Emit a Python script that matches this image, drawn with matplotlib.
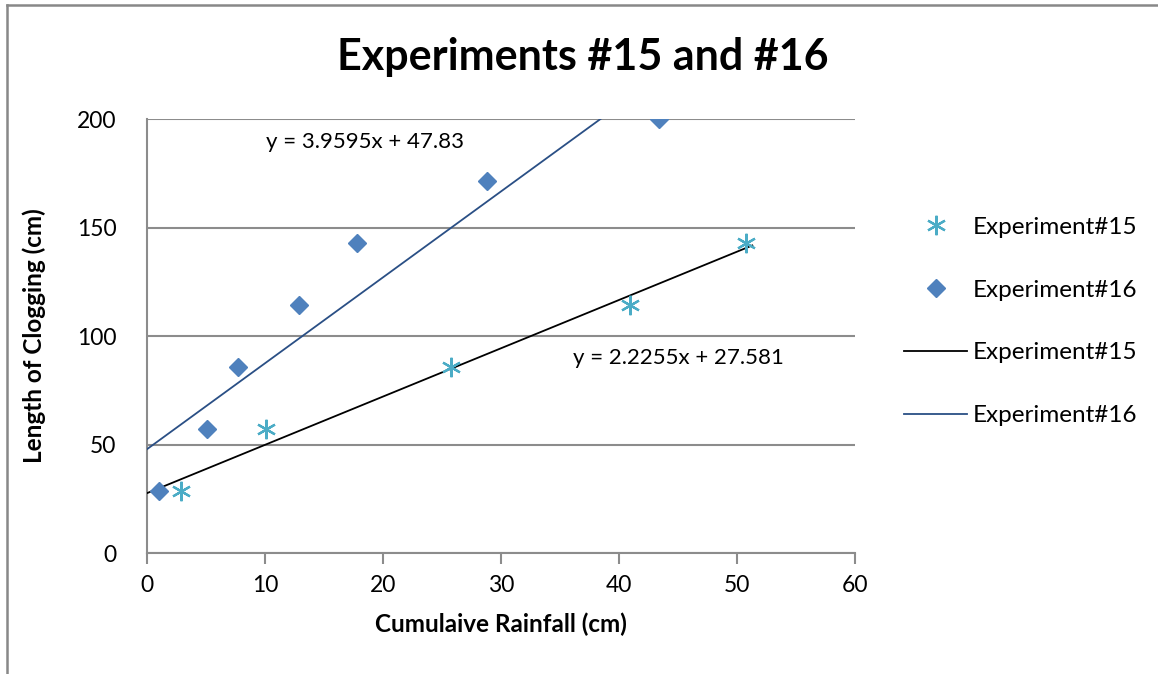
import numpy as np
import matplotlib.pyplot as plt
from matplotlib.lines import Line2D

plt.rcParams['font.family'] = ['Lato', 'DejaVu Sans']

# data
rain_15 = [2.9, 10.1, 25.8, 40.9, 50.8]
clog_15 = [28.6, 57.1, 85.7, 114.3, 142.9]
rain_16 = [1.0, 5.1, 7.7, 12.9, 17.8, 28.8, 43.4]
clog_16 = [28.6, 57.1, 85.7, 114.3, 142.9, 171.4, 200.0]

# trendline coefficients (slope, intercept) as printed on the chart
fit_15 = (2.2255, 27.581)
fit_16 = (3.9595, 47.83)

c_aqua = '#4BACC6'
c_blue = '#4F81BD'
c_line16 = '#2A4F85'

fig = plt.figure(figsize=(11.58, 6.74), dpi=100)
ax = fig.add_axes([0.1269, 0.1795, 0.6114, 0.6439])

ax.plot(rain_15, clog_15, linestyle='none', marker=(6, 2, 0), markersize=14,
        markeredgewidth=1.6, color=c_aqua, label='Experiment#15', zorder=4)
ax.plot(rain_16, clog_16, linestyle='none', marker='D', markersize=9.5,
        color=c_blue, label='Experiment#16', zorder=4)

x15 = np.array([0, max(rain_15) + 0.5])
x16 = np.array([0, max(rain_16)])
ax.plot(x15, fit_15[0] * x15 + fit_15[1], color='black', lw=1.3,
        label='Experiment#15', zorder=3)
ax.plot(x16, fit_16[0] * x16 + fit_16[1], color=c_line16, lw=1.3,
        label='Experiment#16', zorder=3)

ax.text(18.5, 189.5, 'y = 3.9595x + 47.83', fontsize=16, ha='center', va='center')
ax.text(45.0, 90.0, 'y = 2.2255x + 27.581', fontsize=16, ha='center', va='center')

ax.set_xlim(0, 60)
ax.set_ylim(0, 200)
ax.set_xticks(range(0, 61, 10))
ax.set_yticks(range(0, 201, 50))
ax.yaxis.grid(True, color='#8C8C8C', lw=1.5)
ax.set_axisbelow(True)
for s in ['top', 'right']:
    ax.spines[s].set_visible(False)
for s in ['left', 'bottom']:
    ax.spines[s].set_color('#8C8C8C')
    ax.spines[s].set_linewidth(1.5)
ax.tick_params(axis='x', direction='out', length=8, width=1.5, color='#8C8C8C',
               labelsize=16.5, pad=8)
ax.tick_params(axis='y', length=0, labelsize=16.5, pad=22)

ax.set_xlabel('Cumulaive Rainfall (cm)', fontsize=17.5, fontweight='bold', labelpad=12)
ax.set_ylabel('Length of Clogging (cm)', fontsize=17.5, fontweight='bold', labelpad=22)
fig.text(0.503, 0.915, 'Experiments #15 and #16', fontsize=31, fontweight='bold',
         ha='center', va='center')

ax.legend(loc='center left', bbox_to_anchor=(0.762, 0.523), bbox_transform=fig.transFigure,
          frameon=False, fontsize=17.5, labelspacing=1.72, handlelength=2.6,
          handletextpad=0.2)

# outer chart border
fig.add_artist(Line2D([0.006, 0.006], [0, 0.993], transform=fig.transFigure,
                      color='#888888', lw=1.8))
fig.add_artist(Line2D([0.006, 1], [0.993, 0.993], transform=fig.transFigure,
                      color='#888888', lw=1.8))

fig.savefig('out.png', dpi=100)
